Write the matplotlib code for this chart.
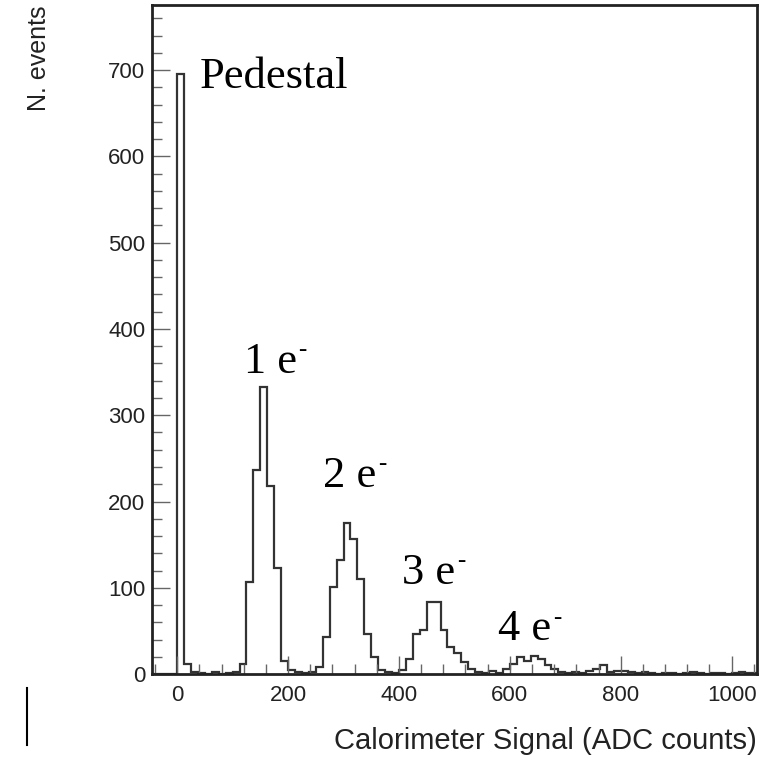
import numpy as np
import matplotlib
matplotlib.use("Agg")
import matplotlib.pyplot as plt
from matplotlib.ticker import MultipleLocator
from matplotlib.lines import Line2D

# ---- data ----
bin_width = 12.5
x_start = -50.0
counts = [
    0, 0, 0, 0, 695, 12, 3, 1, 0, 2,           # -50 .. 75
    0, 1, 3, 12, 107, 237, 333, 218, 123, 15,  # 75 .. 200
    5, 2, 1, 3, 8, 43, 101, 132, 175, 157,     # 200 .. 325
    110, 47, 20, 5, 2, 1, 5, 17, 47, 51,       # 325 .. 450
    84, 84, 51, 31, 24, 14, 6, 3, 1, 4,        # 450 .. 575
    1, 6, 12, 20, 15, 21, 17, 10, 6, 3,        # 575 .. 700
    1, 2, 1, 4, 6, 10, 3, 4, 4, 3,             # 700 .. 825
    1, 2, 1, 0, 1, 1, 0, 1, 2, 1,              # 825 .. 950
    0, 1, 1, 0, 1, 2, 1, 1,                    # 950 .. 1050
]
edges = x_start + bin_width * np.arange(len(counts) + 1)

peak_labels = ["Pedestal", "1 e", "2 e", "3 e", "4 e"]
label_x = [41, 120, 263, 406, 579]
label_y = [679, 349, 217, 105, 39]
label_sup = [False, True, True, True, True]

x_ticks = [0, 200, 400, 600, 800, 1000]
y_ticks = [0, 100, 200, 300, 400, 500, 600, 700]

# ---- figure ----
fig = plt.figure(figsize=(7.65, 7.6), dpi=100)
ax = fig.add_axes([0.199, 0.113, 0.790, 0.880])

ax.stairs(counts, edges, color="#333333", lw=1.6)

ax.set_xlim(-45, 1045)
ax.set_ylim(0, 775)
ax.set_xticks(x_ticks)
ax.set_yticks(y_ticks)
ax.xaxis.set_minor_locator(MultipleLocator(40))
ax.yaxis.set_minor_locator(MultipleLocator(20))

for s in ax.spines.values():
    s.set_linewidth(2.0)
    s.set_color("#222222")

ax.tick_params(axis="both", which="both", direction="in", top=False, right=False,
               color="#666666")
ax.tick_params(axis="both", which="major", length=13, width=1.0,
               labelsize=16, pad=8)
ax.tick_params(axis="y", which="major", pad=5)
ax.tick_params(axis="both", which="minor", length=7, width=1.0)
for lab in ax.get_xticklabels() + ax.get_yticklabels():
    lab.set_fontfamily("Liberation Sans")
    lab.set_color("#222222")

ax.set_xlabel("Calorimeter Signal (ADC counts)", fontsize=21,
              fontfamily="Liberation Sans", color="#222222", loc="right",
              labelpad=15)
ax.set_ylabel("N. events", fontsize=18, fontfamily="Liberation Sans",
              color="#222222", loc="top", labelpad=41)

for txt, x, y, sup in zip(peak_labels, label_x, label_y, label_sup):
    t = ax.text(x, y, txt, fontsize=32, fontfamily="Liberation Serif",
                ha="left", va="baseline", color="black")
    if sup:
        ax.annotate("-", xy=(1, 1), xycoords=t, xytext=(1, 2),
                    textcoords="offset points", ha="left", va="top",
                    fontsize=18, fontfamily="Liberation Serif")

# stray vertical line at bottom left of the reference image
fig.add_artist(Line2D([0.035, 0.035], [0.02, 0.095], color="black", lw=1.5,
                      transform=fig.transFigure))

fig.savefig("out.png", dpi=100, facecolor="white")
